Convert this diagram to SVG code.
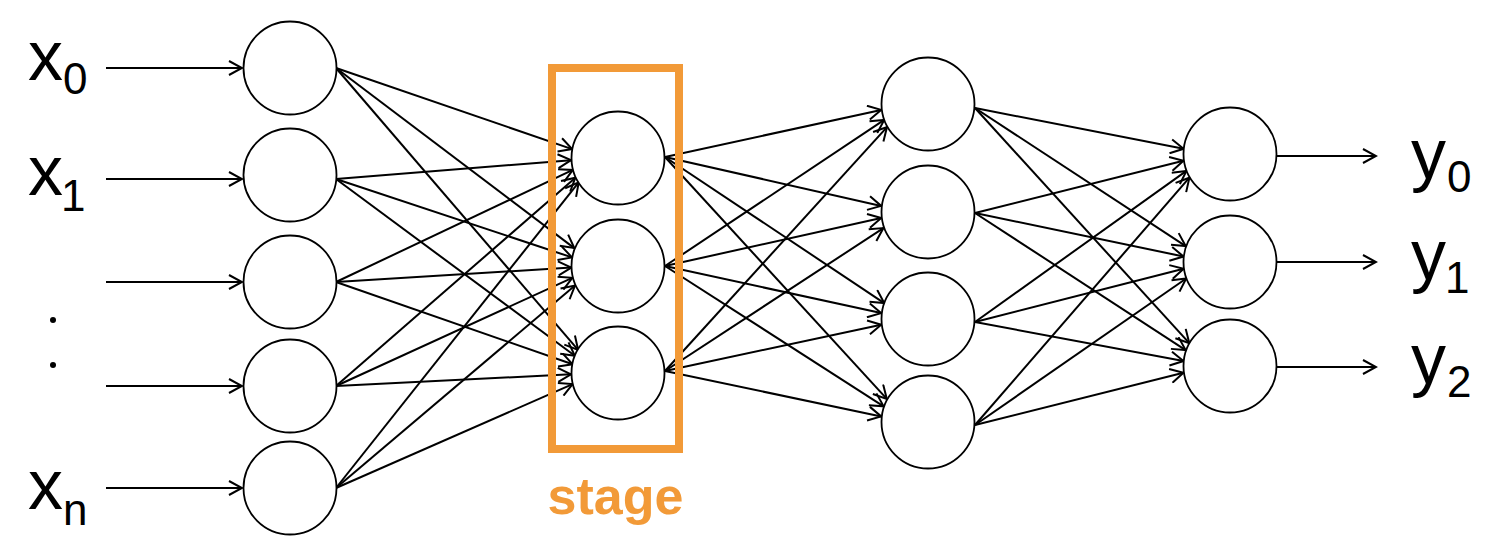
<svg xmlns="http://www.w3.org/2000/svg" width="1490" height="554" viewBox="0 0 1490 554">
<style>
.n{fill:#fff;stroke:#000;stroke-width:1.8}
.e line{stroke:#000;stroke-width:2;marker-end:url(#ah)}
.lbl{font-family:"Liberation Sans",Arial,sans-serif;fill:#000}
.big{font-size:70px}
.sub{font-size:44px}
.stage{font-family:"Liberation Sans",Arial,sans-serif;font-weight:bold;font-size:52px;fill:#F29A38}
</style>
<defs>
<marker id="ah" viewBox="0 0 16 16" refX="14" refY="8" markerWidth="16" markerHeight="16" markerUnits="userSpaceOnUse" orient="auto">
<path d="M1,1 L14,8 L1,15" fill="none" stroke="#000" stroke-width="2"/>
</marker>
</defs>
<rect width="1490" height="554" fill="#fff"/>
<g id="connectors" class="e">
<line x1="106" y1="68" x2="242" y2="68"/>
<line x1="106" y1="179" x2="242" y2="179"/>
<line x1="106" y1="282" x2="242" y2="282"/>
<line x1="106" y1="386" x2="242" y2="386"/>
<line x1="106" y1="488" x2="242" y2="488"/>
<line x1="336" y1="68" x2="572.1" y2="149.1"/>
<line x1="336" y1="179" x2="571.0" y2="160.2"/>
<line x1="336" y1="282" x2="572.8" y2="169.9"/>
<line x1="336" y1="386" x2="575.4" y2="177.7"/>
<line x1="336" y1="488" x2="578.7" y2="182.4"/>
<line x1="336" y1="68" x2="574.3" y2="248.1"/>
<line x1="336" y1="179" x2="572.0" y2="257.4"/>
<line x1="336" y1="282" x2="571.3" y2="267.6"/>
<line x1="336" y1="386" x2="572.3" y2="277.8"/>
<line x1="336" y1="488" x2="575.0" y2="285.5"/>
<line x1="336" y1="68" x2="578.1" y2="349.9"/>
<line x1="336" y1="179" x2="574.8" y2="355.8"/>
<line x1="336" y1="282" x2="572.6" y2="364.2"/>
<line x1="336" y1="386" x2="571.0" y2="374.3"/>
<line x1="336" y1="488" x2="572.6" y2="384.1"/>
<line x1="665" y1="157" x2="881.1" y2="109.9"/>
<line x1="665" y1="266" x2="884.2" y2="119.9"/>
<line x1="665" y1="371" x2="887.0" y2="127.1"/>
<line x1="665" y1="157" x2="881.2" y2="205.9"/>
<line x1="665" y1="266" x2="881.2" y2="218.0"/>
<line x1="665" y1="371" x2="883.4" y2="228.1"/>
<line x1="665" y1="157" x2="884.2" y2="303.1"/>
<line x1="665" y1="266" x2="881.1" y2="313.1"/>
<line x1="665" y1="371" x2="881.2" y2="324.7"/>
<line x1="665" y1="157" x2="886.8" y2="398.9"/>
<line x1="665" y1="266" x2="883.6" y2="406.3"/>
<line x1="665" y1="371" x2="881.2" y2="416.4"/>
<line x1="975" y1="108" x2="1183.6" y2="148.8"/>
<line x1="975" y1="213" x2="1183.4" y2="160.7"/>
<line x1="975" y1="322" x2="1186.4" y2="170.9"/>
<line x1="975" y1="425" x2="1189.4" y2="177.7"/>
<line x1="975" y1="108" x2="1185.7" y2="246.1"/>
<line x1="975" y1="213" x2="1183.5" y2="256.5"/>
<line x1="975" y1="322" x2="1183.6" y2="268.7"/>
<line x1="975" y1="425" x2="1186.2" y2="278.5"/>
<line x1="975" y1="108" x2="1189.3" y2="343.2"/>
<line x1="975" y1="213" x2="1185.6" y2="350.1"/>
<line x1="975" y1="322" x2="1183.5" y2="361.0"/>
<line x1="975" y1="425" x2="1183.4" y2="372.7"/>
<line x1="1277" y1="156" x2="1376" y2="156"/>
<line x1="1277" y1="262" x2="1376" y2="262"/>
<line x1="1277" y1="367" x2="1376" y2="367"/>
</g>
<g id="in0"><circle class="n" cx="290" cy="68" r="46.5"/></g>
<g id="in1"><circle class="n" cx="290" cy="175" r="46.5"/></g>
<g id="in2"><circle class="n" cx="290" cy="282" r="46.5"/></g>
<g id="in3"><circle class="n" cx="290" cy="386" r="46.5"/></g>
<g id="in4"><circle class="n" cx="290" cy="488" r="46.5"/></g>
<g id="st0"><circle class="n" cx="618" cy="158" r="46.5"/></g>
<g id="st1"><circle class="n" cx="618" cy="266" r="46.5"/></g>
<g id="st2"><circle class="n" cx="618" cy="373" r="46.5"/></g>
<g id="h0"><circle class="n" cx="928" cy="104" r="46.5"/></g>
<g id="h1"><circle class="n" cx="928" cy="212" r="46.5"/></g>
<g id="h2"><circle class="n" cx="928" cy="319" r="46.5"/></g>
<g id="h3"><circle class="n" cx="928" cy="422" r="46.5"/></g>
<g id="o0"><circle class="n" cx="1230" cy="154" r="46.5"/></g>
<g id="o1"><circle class="n" cx="1230" cy="262" r="46.5"/></g>
<g id="o2"><circle class="n" cx="1230" cy="366" r="46.5"/></g>
<g id="stage">
<rect x="552" y="68" width="127" height="381" fill="none" stroke="#F29A38" stroke-width="8"/>
<text class="stage" x="615.5" y="514" text-anchor="middle">stage</text>
</g>
<g id="labels" class="lbl">
<text class="big" x="28" y="80">x</text><text class="sub" x="63" y="94">0</text>
<text class="big" x="28" y="195">x</text><text class="sub" x="61" y="211">1</text>
<circle cx="53" cy="320" r="3"/>
<circle cx="53" cy="365" r="3"/>
<text class="big" x="28" y="509">x</text><text class="sub" x="63" y="525">n</text>
<text class="big" x="1411" y="178">y</text><text class="sub" x="1447" y="192">0</text>
<text class="big" x="1411" y="279">y</text><text class="sub" x="1445" y="293">1</text>
<text class="big" x="1411" y="383">y</text><text class="sub" x="1447" y="397">2</text>
</g>
</svg>
